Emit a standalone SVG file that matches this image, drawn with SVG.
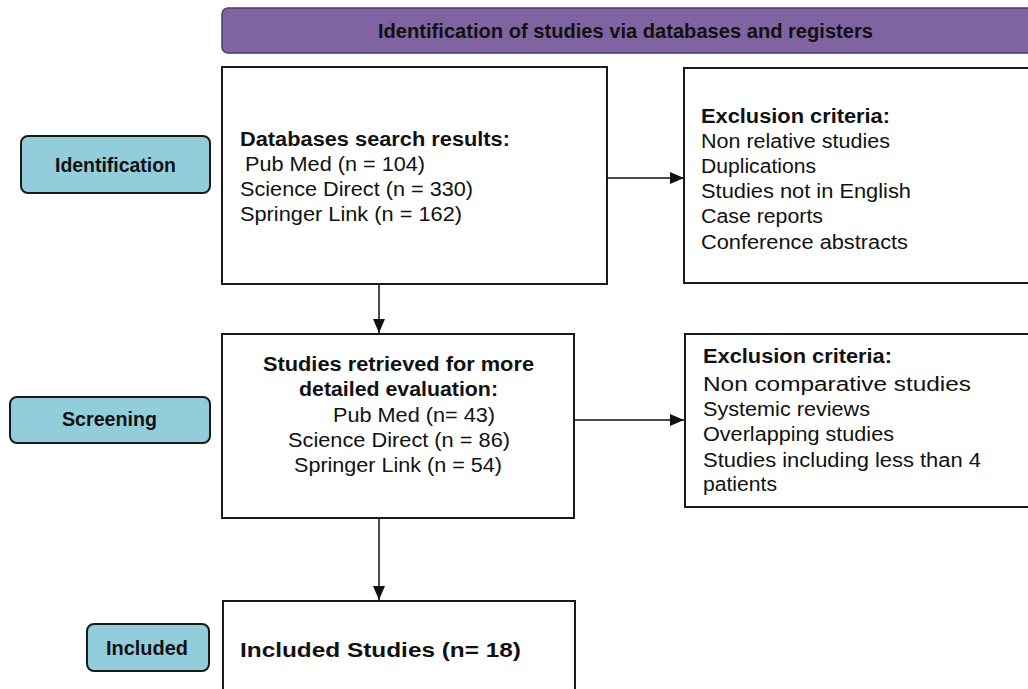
<svg xmlns="http://www.w3.org/2000/svg" width="1028" height="689" viewBox="0 0 1028 689">
<style>
.box{fill:#fff;stroke:#1a1a1a;stroke-width:2}
.lab{fill:#92cddc;stroke:#1a1a1a;stroke-width:2}
.t{font-family:"Liberation Sans",Arial,sans-serif;font-size:20px;fill:#111}
.b{font-weight:bold}
.conn{stroke:#111;stroke-width:1.5;fill:none}
</style>
<defs>
<marker id="ah" markerWidth="14" markerHeight="12" refX="14" refY="6" orient="auto" markerUnits="userSpaceOnUse">
<path d="M0,0 L14,6 L0,12 Z" fill="#111"/>
</marker>
</defs>
<rect width="1028" height="689" fill="#fff"/>
<g id="header">
<rect x="222" y="8" width="820" height="45" rx="6" fill="#8064a2" stroke="#4d3d66" stroke-width="1.5"/>
<text class="t b" x="378" y="38" font-size="21" textLength="495" lengthAdjust="spacingAndGlyphs">Identification of studies via databases and registers</text>
</g>
<g id="label-identification">
<rect class="lab" x="21" y="136" width="189" height="57" rx="7"/>
<text class="t b" x="55" y="172" font-size="22" textLength="121" lengthAdjust="spacingAndGlyphs">Identification</text>
</g>
<g id="label-screening">
<rect class="lab" x="10" y="397" width="200" height="46" rx="7"/>
<text class="t b" x="62" y="426" font-size="22" textLength="95" lengthAdjust="spacingAndGlyphs">Screening</text>
</g>
<g id="label-included">
<rect class="lab" x="87" y="624" width="122" height="47" rx="7"/>
<text class="t b" x="106" y="655" font-size="22" textLength="82" lengthAdjust="spacingAndGlyphs">Included</text>
</g>
<g id="box-databases">
<rect class="box" x="222" y="67" width="385" height="217"/>
<text class="t b" x="240" y="146" textLength="270" lengthAdjust="spacingAndGlyphs">Databases search results:</text>
<text class="t" x="245" y="171" textLength="180" lengthAdjust="spacingAndGlyphs">Pub Med (n = 104)</text>
<text class="t" x="240" y="196" textLength="233" lengthAdjust="spacingAndGlyphs">Science Direct (n = 330)</text>
<text class="t" x="240" y="221" textLength="222" lengthAdjust="spacingAndGlyphs">Springer Link (n = 162)</text>
</g>
<g id="box-exclusion1">
<rect class="box" x="684" y="68" width="360" height="215"/>
<text class="t b" x="701" y="123" textLength="189" lengthAdjust="spacingAndGlyphs">Exclusion criteria:</text>
<text class="t" x="701" y="148" textLength="189" lengthAdjust="spacingAndGlyphs">Non relative studies</text>
<text class="t" x="701" y="173" textLength="115" lengthAdjust="spacingAndGlyphs">Duplications</text>
<text class="t" x="701" y="198" textLength="210" lengthAdjust="spacingAndGlyphs">Studies not in English</text>
<text class="t" x="701" y="223" textLength="122" lengthAdjust="spacingAndGlyphs">Case reports</text>
<text class="t" x="701" y="249" textLength="207" lengthAdjust="spacingAndGlyphs">Conference abstracts</text>
</g>
<g id="box-retrieved">
<rect class="box" x="222" y="334" width="352" height="184"/>
<text class="t b" x="263" y="371" textLength="271" lengthAdjust="spacingAndGlyphs">Studies retrieved for more</text>
<text class="t b" x="299" y="396" textLength="199" lengthAdjust="spacingAndGlyphs">detailed evaluation:</text>
<text class="t" x="333" y="422" textLength="162" lengthAdjust="spacingAndGlyphs">Pub Med (n= 43)</text>
<text class="t" x="288" y="447" textLength="222" lengthAdjust="spacingAndGlyphs">Science Direct (n = 86)</text>
<text class="t" x="294" y="472" textLength="208" lengthAdjust="spacingAndGlyphs">Springer Link (n = 54)</text>
</g>
<g id="box-exclusion2">
<rect class="box" x="685" y="334" width="360" height="173"/>
<text class="t b" x="703" y="363" textLength="189" lengthAdjust="spacingAndGlyphs">Exclusion criteria:</text>
<text class="t" x="703" y="391" font-size="23" textLength="268" lengthAdjust="spacingAndGlyphs">Non comparative studies</text>
<text class="t" x="703" y="416" textLength="167" lengthAdjust="spacingAndGlyphs">Systemic reviews</text>
<text class="t" x="703" y="441" textLength="191" lengthAdjust="spacingAndGlyphs">Overlapping studies</text>
<text class="t" x="703" y="467" textLength="278" lengthAdjust="spacingAndGlyphs">Studies including less than 4</text>
<text class="t" x="703" y="491" textLength="74" lengthAdjust="spacingAndGlyphs">patients</text>
</g>
<g id="box-included">
<rect class="box" x="223" y="601" width="352" height="110"/>
<text class="t b" x="240" y="657" font-size="26" textLength="281" lengthAdjust="spacingAndGlyphs">Included Studies (n= 18)</text>
</g>
<g id="connectors">
<line class="conn" x1="607" y1="178" x2="684" y2="178" marker-end="url(#ah)"/>
<line class="conn" x1="379" y1="284" x2="379" y2="333" marker-end="url(#ah)"/>
<line class="conn" x1="574" y1="420" x2="684" y2="420" marker-end="url(#ah)"/>
<line class="conn" x1="379" y1="518" x2="379" y2="600" marker-end="url(#ah)"/>
</g>
</svg>
